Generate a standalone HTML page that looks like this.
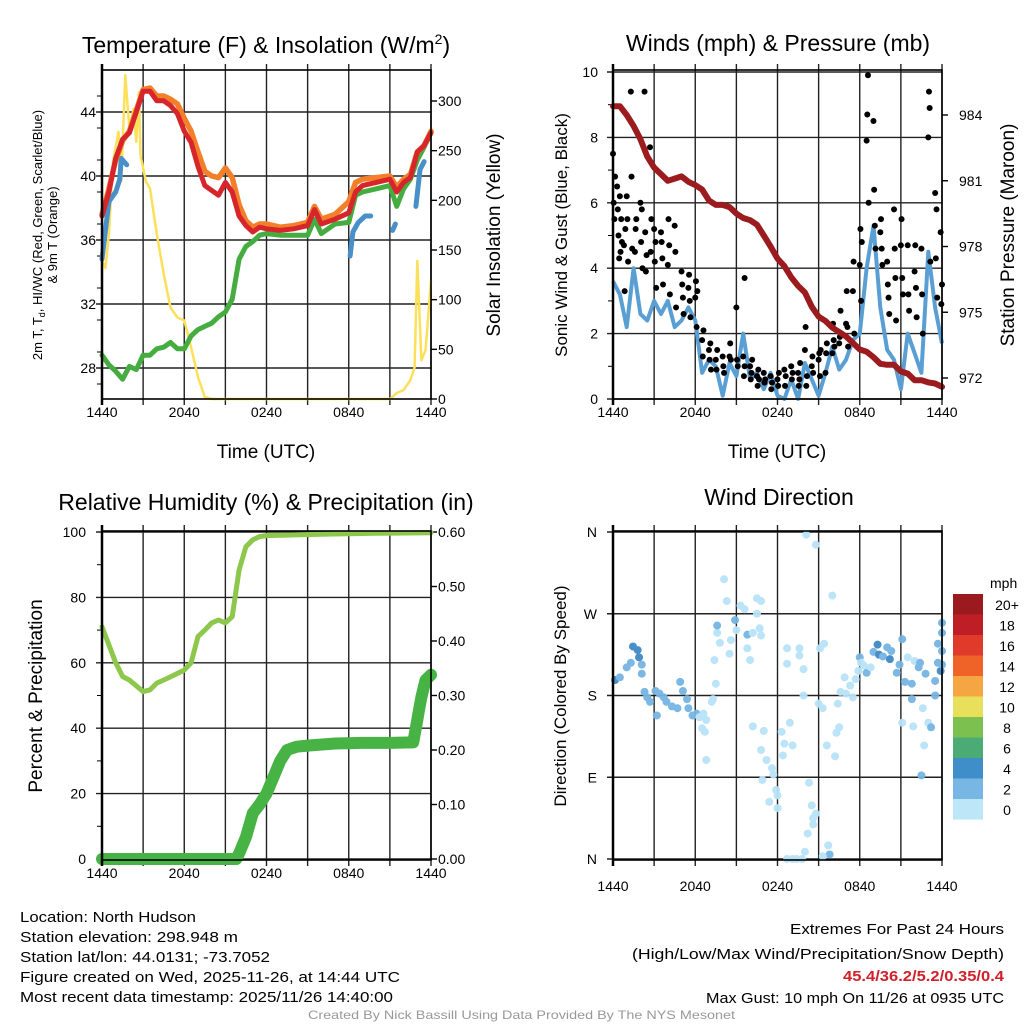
<!DOCTYPE html>
<html><head><meta charset="utf-8"><style>
html,body{margin:0;padding:0;background:#fff;}
svg{display:block;font-family:"Liberation Sans",sans-serif;}
</style></head><body>
<svg id="fig" width="1024" height="1024" viewBox="0 0 1024 1024" xmlns="http://www.w3.org/2000/svg">
<rect width="1024" height="1024" fill="#fff"/>
<g id="p1"></g>
<g id="p2"></g>
<g id="p3"></g>
<g id="p4"></g>
<g id="txt">
<text x="20" y="922" font-size="15" textLength="176" lengthAdjust="spacingAndGlyphs">Location: North Hudson</text>
<text x="20" y="942" font-size="15" textLength="218" lengthAdjust="spacingAndGlyphs">Station elevation: 298.948 m</text>
<text x="20" y="962" font-size="15" textLength="250" lengthAdjust="spacingAndGlyphs">Station lat/lon: 44.0131; -73.7052</text>
<text x="20" y="982" font-size="15" textLength="380" lengthAdjust="spacingAndGlyphs">Figure created on Wed, 2025-11-26, at 14:44 UTC</text>
<text x="20" y="1002" font-size="15" textLength="373" lengthAdjust="spacingAndGlyphs">Most recent data timestamp: 2025/11/26 14:40:00</text>
<text x="790" y="934" font-size="15" textLength="214" lengthAdjust="spacingAndGlyphs">Extremes For Past 24 Hours</text>
<text x="632" y="959" font-size="15" textLength="372" lengthAdjust="spacingAndGlyphs">(High/Low/Max Wind/Precipitation/Snow Depth)</text>
<text x="843" y="981" font-size="15" font-weight="bold" fill="#d0202a" textLength="161" lengthAdjust="spacingAndGlyphs">45.4/36.2/5.2/0.35/0.4</text>
<text x="706" y="1003" font-size="15" textLength="298" lengthAdjust="spacingAndGlyphs">Max Gust: 10 mph On 11/26 at 0935 UTC</text>
<text x="308" y="1019" font-size="12" fill="#999" textLength="427" lengthAdjust="spacingAndGlyphs">Created By Nick Bassill Using Data Provided By The NYS Mesonet</text>
</g>
</svg>
<script>
// ---------- Panel 1 data ----------
const tempTimes = [0,0.5,1,1.5,2,2.5,3,3.5,4,4.5,5,5.5,6,6.5,7,7.5,8,8.5,9,9.5,10,10.5,11,11.5,12,13,14,15,15.5,16,17,18,18.5,19,20,21,21.5,22,22.5,23,23.5,24];
const temp2m = [37.5,39.0,41.1,42.3,42.7,44.0,45.3,45.3,44.7,44.7,44.4,43.9,42.8,42.1,40.6,39.4,39.1,38.8,39.6,39.0,37.5,36.9,36.5,36.8,36.7,36.6,36.7,36.9,37.9,37.0,37.3,37.7,39.0,39.4,39.6,39.8,39.0,39.6,39.9,41.5,41.9,42.7];
const temp9m = [37.6,39.2,41.0,42.2,42.8,44.1,45.4,45.5,45.0,45.0,44.8,44.5,43.6,42.8,41.5,40.3,40.0,39.9,40.5,39.9,38.2,37.2,36.8,37.0,37.0,36.8,36.9,37.1,38.1,37.3,37.6,38.4,39.6,39.8,39.9,40.0,39.3,39.8,40.1,41.5,41.9,42.8];
const dewpoint = [28.8,28.2,27.8,27.3,28.1,27.9,28.8,28.8,29.2,29.3,29.6,29.2,29.2,30.0,30.4,30.6,30.8,31.2,31.5,32.3,34.8,35.6,35.9,36.3,36.4,36.3,36.3,36.3,37.3,36.4,37.0,37.1,38.8,39.0,39.2,39.4,38.1,39.2,39.8,41.0,41.8,42.7];
const hiwcTimes = [0,0.5,1.0,1.3,1.4,1.8,null,18.1,18.3,18.7,19.2,19.6,null,21.2,21.4,null,22.9,23.2,23.5];
const hiwcVals = [34.8,38.4,39.0,39.8,41.1,40.7,null,35.0,36.5,37.1,37.5,37.5,null,36.6,37.0,null,38.1,40.4,40.9];
const solTimes = [0,0.25,0.5,0.8,1.2,1.4,1.7,2.0,2.3,2.5,2.7,2.8,3.2,3.5,4,4.5,5,5.5,6,6.5,7,7.5,8,21,21.5,22,22.5,22.8,23,23.3,23.6,24];
const solVals = [139,132,166,239,269,219,326,272,292,259,309,246,219,212,166,126,92,82,79,52,22,2,0,0,6,9,19,32,139,39,49,119];
const tempTicks = [28,32,36,40,44];
const solTicks = [0,50,100,150,200,250,300];
const timeTickLabels = ["1440","2040","0240","0840","1440"];
// ---------- Panel 2 data ----------
const windTimes = [0,0.5,1,1.5,2,2.5,3,3.5,4,4.5,5,5.5,6,6.5,7,7.5,8,8.5,9,9.5,10,10.5,11,11.5,12,12.5,13,13.5,14,14.5,15,15.5,16,16.5,17,17.5,18,18.5,19,19.5,20,20.5,21,21.5,22,22.5,23,23.5,24];
const windVals = [3.6,3.2,2.2,4.0,2.6,2.4,3.0,2.6,3.0,2.2,2.4,2.8,2.4,0.8,1.2,1.0,0.1,1.1,0.7,2.0,0.6,0.8,0.3,0.8,0.1,0,0.6,0,1.1,0.6,0.1,0.8,1.6,0.9,1.2,1.8,2.0,4.0,5.3,2.8,1.5,1.2,0.3,2.0,1.4,0.8,4.5,2.8,1.7];
const presVals = [984.4,984.4,984.0,983.5,982.9,982.1,981.6,981.3,981.0,981.1,981.2,980.95,980.8,980.6,980.1,979.9,979.9,979.8,979.5,979.3,979.2,979.0,978.5,978.0,977.45,977.1,976.6,976.2,975.9,975.25,974.8,974.6,974.3,974.1,973.9,973.6,973.3,973.2,972.95,972.65,972.6,972.6,972.3,972.2,971.9,971.9,971.8,971.75,971.6];
const gustTimes = [0,0.05,0.1,0.15,0.3,0.35,0.4,0.45,0.5,0.55,0.6,0.65,0.8,0.85,0.9,1.0,1.05,1.1,1.3,1.35,1.4,1.6,1.65,1.7,2.0,2.05,2.1,2.15,2.3,2.35,2.4,2.45,2.7,2.75,2.8,3.0,3.05,3.1,3.15,3.5,3.55,3.6,3.65,4.0,4.05,4.1,4.15,4.5,4.55,4.6,5.0,5.05,5.1,5.15,5.5,5.55,5.6,5.65,6.0,6.05,6.1,6.15,6.5,6.55,6.6,7.0,7.05,7.1,7.15,7.5,7.55,7.6,8.0,8.05,8.1,8.5,8.55,8.6,9.0,9.05,9.1,9.6,9.5,9.55,9.6,10.0,10.05,10.1,10.15,10.5,10.55,10.6,10.65,11.0,11.05,11.1,11.5,11.55,11.6,12.0,12.05,12.1,12.5,12.55,12.6,13.0,13.05,13.1,13.5,13.55,13.6,13.65,14.0,14.05,14.1,14.15,14.5,14.55,14.6,15.0,15.05,15.1,15.15,15.5,15.55,15.6,16.0,16.05,16.1,16.15,16.5,16.55,16.6,17.0,17.05,17.1,17.15,17.5,17.55,17.6,18.0,18.05,18.1,18.15,18.5,18.55,18.6,18.65,19.0,19.05,19.1,19.15,19.5,19.55,19.6,19.65,20.0,20.05,20.1,20.15,20.5,20.55,20.6,20.65,21.0,21.05,21.1,21.15,21.5,21.55,21.6,22.0,22.05,22.1,22.15,22.5,22.55,22.6,23.0,23.05,23.1,23.15,23.5,23.55,23.6,23.65,23.9,23.95,24.0];
const gustVals = [7.5,6.0,5.5,6.8,6.5,5.8,5.0,4.3,6.2,4.5,5.5,4.8,4.7,3.3,5.2,6.2,5.5,4.2,9.4,6.8,4.6,4.5,5.2,5.5,6.0,4.8,5.8,4.0,9.4,5.1,3.9,4.4,7.7,4.5,5.5,5.2,4.2,4.8,3.4,5.1,4.8,4.3,3.5,4.1,5.5,4.7,3.2,5.3,4.5,2.8,3.9,3.5,3.1,2.6,3.4,3.8,3.0,2.5,3.1,3.6,2.2,3.3,1.8,1.3,2.1,1.5,1.2,1.7,0.9,1.2,0.9,1.5,1.3,1.0,0.8,1.3,1.7,1.2,2.8,1.2,1.0,3.7,1.3,0.7,1.0,1.0,0.6,0.8,1.2,0.7,0.4,0.9,0.6,0.8,0.5,0.6,0.7,0.3,0.5,0.6,0.4,0.8,0.9,0.4,0.7,1.0,0.6,0.8,0.8,0.4,0.6,1.1,1.5,2.2,0.4,0.7,1.0,1.3,0.8,1.2,1.4,0.7,1.5,0.8,1.4,1.7,1.4,2.3,1.8,1.6,1.7,1.9,2.7,2.3,3.3,2.2,1.6,3.3,4.2,2.0,4.1,5.2,3.0,4.8,7.9,8.7,9.9,6.0,8.5,6.4,5.3,4.6,5.1,5.5,4.6,4.1,4.2,3.5,3.1,2.6,5.8,4.6,3.7,2.4,4.7,5.5,3.7,3.2,4.7,3.2,2.7,3.9,4.7,3.4,2.5,4.6,3.2,2.0,8.0,9.4,8.9,4.2,6.3,4.3,5.8,3.1,5.1,2.9,3.5];
const windTicks = [0,2,4,6,8,10];
const presTicks = [972,975,978,981,984];
// ---------- Panel 3 data ----------
const rhTimes = [0,1,1.5,2,3,3.5,4,5,6,6.5,7,7.5,8,8.5,9,9.5,10,10.5,11,11.5,12,16,20,24];
const rhVals = [71,60,55.8,54.7,51.2,51.7,53.8,55.7,57.8,60,68,70,72.2,73.1,72.2,74.1,88.4,95.5,97.6,98.6,98.9,99.3,99.6,99.8];
const precipTimes = [0,9.8,10,10.5,11,11.5,12,12.5,13,13.5,14.2,15,17,19,21,22.7,23.0,23.1,23.3,23.6,24];
const precipVals = [0,0,0.01,0.04,0.084,0.1,0.12,0.15,0.18,0.2,0.206,0.208,0.212,0.213,0.213,0.214,0.255,0.27,0.297,0.328,0.338];
const rhTicks = [0,20,40,60,80,100];
const precipTicks = ["0.00","0.10","0.20","0.30","0.40","0.50","0.60"];
// ---------- Panel 4 data ----------
const dirTimes = [0.15,0.5,1.0,1.3,1.46,1.8,1.9,2.1,2.1,2.3,2.5,2.7,3.2,3.1,3.4,3.7,3.9,4.3,4.7,4.9,5.1,5.4,5.5,5.8,6.1,6.3,6.6,6.8,6.5,6.7,6.8,7.2,7.3,7.5,7.4,7.6,7.6,7.8,8.1,8.3,8.5,8.6,8.9,9.0,9.3,9.6,9.8,9.8,10.0,10.2,10.5,10.8,10.5,10.7,10.8,10.2,11.0,10.8,11.2,11.6,11.7,10.9,11.9,12.0,11.4,12.0,12.3,12.5,12.4,12.7,12.7,12.9,13.1,12.7,13.1,13.4,13.8,13.6,13.6,13.9,13.9,14.1,14.8,14.0,14.2,14.6,14.8,14.3,14.5,14.6,15.0,15.3,15.1,15.4,15.6,15.7,15.8,15.3,16.0,16.3,16.2,16.4,16.5,16.6,16.9,17.0,17.3,17.5,17.7,17.9,18.0,18.1,18.3,18.5,18.8,19.0,19.3,19.4,19.7,20.0,20.2,20.3,20.7,20.9,21.1,21.3,21.1,21.5,21.8,21.8,21.9,22.0,22.3,22.4,22.5,22.6,22.7,22.8,23.0,23.2,23.5,23.5,23.7,23.9,23.7,24.0,24.0,24.0,24.0];
const dirDegrees = [197,200,211,216,234,230,222,214,204,184,178,173,158,185,182,178,173,168,166,195,185,176,166,158,160,156,160,153,144,140,109,173,176,193,219,249,257,238,308,284,226,241,263,252,279,275,247,232,219,249,287,284,270,254,246,146,141,120,109,100,93,87,76,70,63,56,140,127,114,232,215,150,125,0,0,0,0,232,224,180,209,357,346,8,28,45,50,84,59,38,171,166,232,237,125,15,5,3,290,139,113,171,145,184,200,182,191,178,198,207,222,216,213,205,211,228,236,225,223,233,220,229,205,214,242,195,150,222,193,176,146,218,211,216,92,166,125,204,150,145,180,196,237,207,216,214,229,249,260];
const dirSpeeds = [4.5,3,3,3,4.5,4.5,4.5,3,3,3,3,3,3,3,3,3,3,3,3,3,3,3,3,3,3,1,1,1,1,1,1,1,1,1,1,1,3,1,1,1,1,1,3,1,1,1,3,1,1,1,1,1,1,1,1,1,1,1,1,1,1,1,1,1,1,1,1,1,1,1,1,1,1,1,1,1,1,1,1,1,1,1,1,1,1,1,1,1,1,1,1,1,1,1,1,1,3,1,1,1,1,1,1,1,1,1,1,1,1,1,3,1,1,3,1,3,4.5,4.5,3,3,4.5,3,3,3,3,3,1,1,3,3,1,1,3,3,3,1,1,3,1,3,3,3,3,4.5,3,3,3,3,3,3];
const dirTickLabels = ["N","E","S","W","N"];
const legendLabels = ["20+","18","16","14","12","10","8","6","4","2","0"];
const legendColors = ["#9a1a1e","#bf1e26","#df3a2a","#ef6329","#f5a643","#e8e05a","#7cc14f","#4aac74","#3f8dc9","#78b7e4","#bde6f8"];

const NS = "http://www.w3.org/2000/svg";
function mk(parent, tag, attrs, text){
  const e = document.createElementNS(NS, tag);
  for (const k in attrs) e.setAttribute(k, attrs[k]);
  if (text !== undefined) e.textContent = text;
  parent.appendChild(e);
  return e;
}
const L = 102, R = 431, L2 = 613, R2 = 942;
function xScale(x0){ return t => x0 + t/24*329; }
function lin(v0, p0, v1, p1){ return v => p0 + (v - v0)/(v1 - v0)*(p1 - p0); }
function pathFrom(ts, vs, xs, ys){
  let d = "", pen = false;
  for (let i=0;i<ts.length;i++){
    if (ts[i] === null || vs[i] === null){ pen = false; continue; }
    d += (pen ? "L" : "M") + xs(ts[i]).toFixed(1) + "," + ys(vs[i]).toFixed(1);
    pen = true;
  }
  return d;
}
function frame(g, x0, y0, x1, y1){
  // grid verticals every 3 hours
  for (let i=0;i<=8;i++){
    const x = x0 + i*(x1-x0)/8;
    const gl = mk(g, "line", {x1:x, y1:y0-6, x2:x, y2:y1+6, stroke:"#222", "stroke-width":1.4});
    
    
  }
}
function hgrid(g, x0, x1, y, outL, outR){
  const gl = mk(g, "line", {x1:x0-(outL||0), y1:y, x2:x1+(outR||0), y2:y, stroke:"#222", "stroke-width":1.4});
  
  
}
function border(g, x0, y0, x1, y1){
  const b = mk(g, "rect", {x:x0, y:y0, width:x1-x0, height:y1-y0, fill:"none", stroke:"#000", "stroke-width":1.6});
  
  
  const la = mk(g, "line", {x1:x0, y1:y0-6, x2:x0, y2:y1+6, stroke:"#000", "stroke-width":2.5});
  
  
}
function xLabels(g, x0, x1, y){
  for (let i=0;i<timeTickLabels.length;i++){
    const t = mk(g, "text", {x:x0 + i*(x1-x0)/4, y:y, "font-size":14, "text-anchor":"middle"}, timeTickLabels[i]);
    
    
  }
}
function title(g, x, y, txt, name, fs){
  const t = mk(g, "text", {x:x, y:y, "font-size":fs||23, "text-anchor":"middle"});
  
  
  return t;
}
function vlabel(g, x, y, txt, name, fs){
  const t = mk(g, "text", {x:x, y:y, "font-size":fs||19, "text-anchor":"middle", transform:"rotate(-90 "+x+" "+y+")"}, txt);
  
  
  return t;
}

// ================= Panel 1 =================
(function(){
  const g = document.getElementById("p1");
  const x = xScale(L);
  const yT = lin(28, 368, 44, 112);
  const yS = lin(0, 399, 300, 101);
  frame(g, L, 70, R, 399);
  tempTicks.forEach(v => {
    hgrid(g, L, R, yT(v), 6, 0);
    const t = mk(g, "text", {x:96, y:yT(v)+5, "font-size":14, "text-anchor":"end"}, String(v));
    
    
  });
  for (let v=27; v<=46; v+=2){ mk(g,"line",{x1:L-5,y1:yT(v),x2:L,y2:yT(v),stroke:"#000","stroke-width":1}); }
  solTicks.forEach(v => {
    mk(g,"line",{x1:R,y1:yS(v),x2:R+6,y2:yS(v),stroke:"#000","stroke-width":1.4});
    const t = mk(g, "text", {x:438, y:yS(v)+5, "font-size":14}, String(v));
    
    
  });
  const series = [
    [solTimes, solVals, yS, "#fde05a", 2.5, "insolation-line"],
    [tempTimes, dewpoint, yT, "#45ad40", 5, "dewpoint-line"],
    [hiwcTimes, hiwcVals, yT, "#4a90c8", 5, "heat-index-line"],
    [tempTimes, temp9m, yT, "#f47f2a", 5.5, "temp-9m-line"],
    [tempTimes, temp2m, yT, "#d7262b", 5, "temp-2m-line"]
  ];
  // draw insolation first (behind), then dewpoint, blue, orange, red
  series.forEach(s => {
    const p = mk(g, "path", {d:pathFrom(s[0], s[1], x, s[2]), fill:"none", stroke:s[3], "stroke-width":s[4], "stroke-linejoin":"round", "stroke-linecap":"round"});
    
    
  });
  // redraw dewpoint on top near end where lines merge
  border(g, L, 70, R, 399);
  xLabels(g, L, R, 417);
  const tt = title(g, 266, 53, "", "temperature-title");
  tt.innerHTML = 'Temperature (F) &amp; Insolation (W/m<tspan dy="-9" font-size="14">2</tspan><tspan dy="9">)</tspan>';
  const xl = mk(g, "text", {x:266, y:458, "font-size":19, "text-anchor":"middle"}, "Time (UTC)");
  
  
  const yl = mk(g, "text", {x:42, y:235, "font-size":13, "text-anchor":"middle", transform:"rotate(-90 42 235)"});
  
  
  yl.innerHTML = '2m T, T<tspan dy="3" font-size="9">d</tspan><tspan dy="-3">, HI/WC (Red, Green, Scarlet/Blue)</tspan>';
  const yl2 = mk(g, "text", {x:57, y:235, "font-size":13, "text-anchor":"middle", transform:"rotate(-90 57 235)"}, "& 9m T (Orange)");
  
  
  vlabel(g, 500, 235, "Solar Insolation (Yellow)", "right-axis-title");
})();

// ================= Panel 2 =================
(function(){
  const g = document.getElementById("p2");
  const x = xScale(L2);
  const yW = lin(0, 399, 10, 72);
  const yP = lin(972, 378, 984, 115);
  frame(g, L2, 70, R2, 399);
  windTicks.forEach(v => {
    hgrid(g, L2, R2, yW(v), 6, 0);
    const t = mk(g, "text", {x:598, y:yW(v)+5, "font-size":14, "text-anchor":"end"}, String(v));
    
    
  });
  for (let v=1; v<=9; v+=2){ mk(g,"line",{x1:L2-5,y1:yW(v),x2:L2,y2:yW(v),stroke:"#000","stroke-width":1}); }
  presTicks.forEach(v => {
    mk(g,"line",{x1:R2,y1:yP(v),x2:R2+6,y2:yP(v),stroke:"#000","stroke-width":1.4});
    const t = mk(g, "text", {x:959, y:yP(v)+5, "font-size":14}, String(v));
    
    
  });
  const wl = mk(g, "path", {d:pathFrom(windTimes, windVals, x, yW), fill:"none", stroke:"#5a9fd4", "stroke-width":4, "stroke-linejoin":"round"});
  
  
  const gg = mk(g, "g", {});
  
  
  for (let i=0;i<gustTimes.length;i++){
    const c = mk(gg, "circle", {cx:x(gustTimes[i]), cy:yW(gustVals[i]), r:3, fill:"#000"});
    
    
  }
  const pl = mk(g, "path", {d:pathFrom(windTimes, presVals, x, yP), fill:"none", stroke:"#9b1b1e", "stroke-width":6, "stroke-linejoin":"round", "stroke-linecap":"round"});
  
  
  border(g, L2, 70, R2, 399);
  xLabels(g, L2, R2, 417);
  const tt = title(g, 778, 51, "", "winds-title");
  tt.textContent = "Winds (mph) & Pressure (mb)";
  const xl = mk(g, "text", {x:777, y:458, "font-size":19, "text-anchor":"middle"}, "Time (UTC)");
  
  
  vlabel(g, 567, 235, "Sonic Wind & Gust (Blue, Black)", "y-axis-title", 17);
  vlabel(g, 1014, 235, "Station Pressure (Maroon)", "right-axis-title", 19);
})();

// ================= Panel 3 =================
(function(){
  const g = document.getElementById("p3");
  const x = xScale(L);
  const yR = lin(0, 859, 100, 532);
  const yPr = lin(0, 859, 0.6, 532);
  frame(g, L, 531, R, 860);
  rhTicks.forEach(v => {
    hgrid(g, L, R, yR(v), 6, 0);
    const t = mk(g, "text", {x:86, y:yR(v)+5, "font-size":14, "text-anchor":"end"}, String(v));
    
    
  });
  for (let v=10; v<=90; v+=20){ mk(g,"line",{x1:L-5,y1:yR(v),x2:L,y2:yR(v),stroke:"#000","stroke-width":1}); }
  precipTicks.forEach(s => {
    const v = parseFloat(s);
    mk(g,"line",{x1:R,y1:yPr(v),x2:R+6,y2:yPr(v),stroke:"#000","stroke-width":1.4});
    const t = mk(g, "text", {x:438, y:yPr(v)+5, "font-size":14}, s);
    
    
  });
  const rl = mk(g, "path", {d:pathFrom(rhTimes, rhVals, x, yR), fill:"none", stroke:"#8dc84d", "stroke-width":5, "stroke-linejoin":"round", "stroke-linecap":"round"});
  
  
  const pl = mk(g, "path", {d:pathFrom(precipTimes, precipVals, x, yPr), fill:"none", stroke:"#48b345", "stroke-width":12, "stroke-linejoin":"round", "stroke-linecap":"round"});
  
  
  border(g, L, 531, R, 860);
  xLabels(g, L, R, 878);
  const tt = title(g, 266, 510, "", "humidity-title");
  tt.textContent = "Relative Humidity (%) & Precipitation (in)";
  vlabel(g, 42, 696, "Percent & Precipitation", "y-axis-title", 19);
})();

// ================= Panel 4 =================
(function(){
  const g = document.getElementById("p4");
  const x = xScale(L2);
  const yD = lin(0, 859, 360, 532);
  frame(g, L2, 531, R2, 860);
  dirTickLabels.forEach((s,i) => {
    const v = i*90;
    hgrid(g, L2, R2, yD(v), 6, 0);
    const t = mk(g, "text", {x:597, y:yD(v)+5, "font-size":14, "text-anchor":"end"}, s);
    
    
  });
  function colorFor(s){
    if (s < 2) return "#b9e3f8";
    if (s < 4) return "#76b5e2";
    if (s < 6) return "#4189c5";
    return "#4aac74";
  }
  const dg = mk(g, "g", {opacity:0.95});
  
  
  for (let i=0;i<dirTimes.length;i++){
    const c = mk(dg, "circle", {cx:x(dirTimes[i]), cy:yD(dirDegrees[i]), r:4, fill:colorFor(dirSpeeds[i])});
    
    
  }
  border(g, L2, 531, R2, 860);
  xLabels(g, L2, R2, 891);
  const tt = title(g, 779, 505, "", "wind-direction-title");
  tt.textContent = "Wind Direction";
  vlabel(g, 566, 696, "Direction (Colored By Speed)", "y-axis-title", 17);
  // legend
  const lg = mk(g, "g", {});
  
  
  const lt = mk(lg, "text", {x:990, y:588, "font-size":14}, "mph");
  
  
  legendLabels.forEach((s,i) => {
    const y = 594 + i*20.5;
    const r = mk(lg, "rect", {x:953, y:y, width:30, height:20.6, fill:legendColors[i]});
    
    
    const t = mk(lg, "text", {x:1007, y:y+16, "font-size":14, "text-anchor":"middle"}, s);
    
    
  });
})();
</script>
</body></html>
